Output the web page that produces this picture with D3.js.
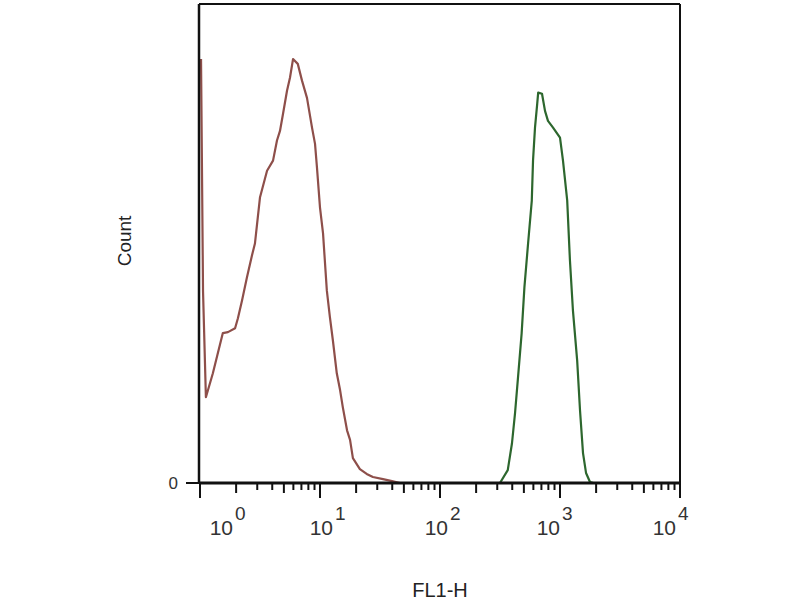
<!DOCTYPE html>
<html><head><meta charset="utf-8">
<script src="https://cdn.jsdelivr.net/npm/d3@7"></script>
<style>body{margin:0;background:#fff}svg{display:block}</style>
</head><body>
<svg id="c" width="800" height="600"></svg>
<script>
// FL1-H fluorescence (linear value on log axis) and event counts
const redFL = [1.02,1.06,1.12,1.28,1.55,1.71,1.96,2.07,2.24,2.46,2.71,2.87,3.16,3.62,4.06,4.38,4.64,4.92,5.31,5.62,5.96,6.53,7.08,7.79,8.58,9.09,9.44,10,10.6,11.4,12.1,12.8,13.8,14.7,15.5,16.8,17.8,18.8,21.5,24.5,27.6,33.5,39.8,46.4,10000];
const redCount = [88.5,40,17.9,22.9,31.3,31.5,32.3,34.4,38.1,42.9,47.5,50,59.6,65.2,67.3,71.5,73.5,77.1,81.9,84.6,88.5,87.5,84,80.4,74.2,70.8,65.8,57.5,52.1,40.2,34.6,29.8,22.9,19.4,15.8,11,9,5.2,2.9,1.9,1.25,0.8,0.4,0,0];
const greenFL = [316,367,398,422,447,479,505,542,582,596,619,646,658,708,750,794,875,1000,1059,1148,1210,1282,1390,1468,1555,1648,1778,1900];
const greenCount = [0,2.7,8.3,14.6,22.1,31.25,40.8,50,58.96,67.3,74.2,79.2,81.5,81.25,77.7,75.6,74.2,72.1,67.3,59,46.5,36,25.6,15.2,6.25,2.1,0.2,0];
const xMajor = [1,10,100,1000,10000];
const xExp = ["0","1","2","3","4"];
const yTicks = [0];
const xTitle = "FL1-H";
const yTitle = "Count";

const svg = d3.select("#c");
const L=200,R=680,T=4,B=483;
const x = d3.scaleLog().domain([1,10000]).range([L,R]);
const y = d3.scaleLinear().domain([0,100]).range([B,T]);
const font = "'Liberation Sans', Arial, sans-serif";

// curves
const mk = (xs,ys)=>xs.map((v,i)=>[v,ys[i]]);
const line = d3.line().x(d=>x(d[0])).y(d=>y(d[1]));
svg.append("path").attr("d",line(mk(redFL,redCount))).attr("fill","none")
  .attr("stroke","#8e4f4a").attr("stroke-width",2.2).attr("stroke-linejoin","round");
svg.append("path").attr("d",line(mk(greenFL,greenCount))).attr("fill","none")
  .attr("stroke","#2d672e").attr("stroke-width",2.2).attr("stroke-linejoin","round");

// frame
svg.append("line").attr("x1",L-1).attr("x2",L-1).attr("y1",T).attr("y2",B).attr("stroke","#111").attr("stroke-width",2.5);
svg.append("line").attr("x1",L-1).attr("x2",R).attr("y1",T).attr("y2",T).attr("stroke","#111").attr("stroke-width",2);
svg.append("line").attr("x1",R).attr("x2",R).attr("y1",T).attr("y2",B).attr("stroke","#111").attr("stroke-width",2);

// x axis ticks
const allTicks = [];
xMajor.slice(0,-1).forEach(d=>{ for(let k=1;k<10;k++) allTicks.push({v:d*k,k}); });
allTicks.push({v:10000,k:1});
svg.selectAll(".xt").data(allTicks).enter().append("line")
  .attr("x1",d=>x(d.v)).attr("x2",d=>x(d.v))
  .attr("y1",B).attr("y2",d=>B+(d.k===1?15:(d.k===2||d.k===5?10:7)))
  .attr("stroke","#111").attr("stroke-width",2);
svg.append("line").attr("x1",L-1).attr("x2",R+1).attr("y1",B).attr("y2",B).attr("stroke","#111").attr("stroke-width",3);

// x tick labels
const nudge = [33,13,8,0,-4];
xMajor.forEach((v,i)=>{
  svg.append("text").attr("x",x(v)+nudge[i]).attr("y",535)
    .attr("text-anchor","end").attr("font-family",font).attr("font-size",21).attr("fill","#333").text("10");
  svg.append("text").attr("x",x(v)+nudge[i]+2).attr("y",520)
    .attr("font-family",font).attr("font-size",19).attr("fill","#333").text(xExp[i]);
});

// y axis
yTicks.forEach(v=>{
  svg.append("line").attr("x1",186).attr("x2",L).attr("y1",y(v)).attr("y2",y(v)).attr("stroke","#111").attr("stroke-width",2);
  svg.append("text").attr("x",178).attr("y",y(v)+6).attr("text-anchor","end")
    .attr("font-family",font).attr("font-size",17).attr("fill","#333").text(v);
});

// titles
svg.append("text").attr("x",440).attr("y",597).attr("text-anchor","middle")
  .attr("font-family",font).attr("font-size",20).attr("fill","#222").text(xTitle);
svg.append("text").attr("transform","translate(131,241) rotate(-90)").attr("text-anchor","middle")
  .attr("font-family",font).attr("font-size",19).attr("fill","#222").text(yTitle);
</script>
</body></html>
